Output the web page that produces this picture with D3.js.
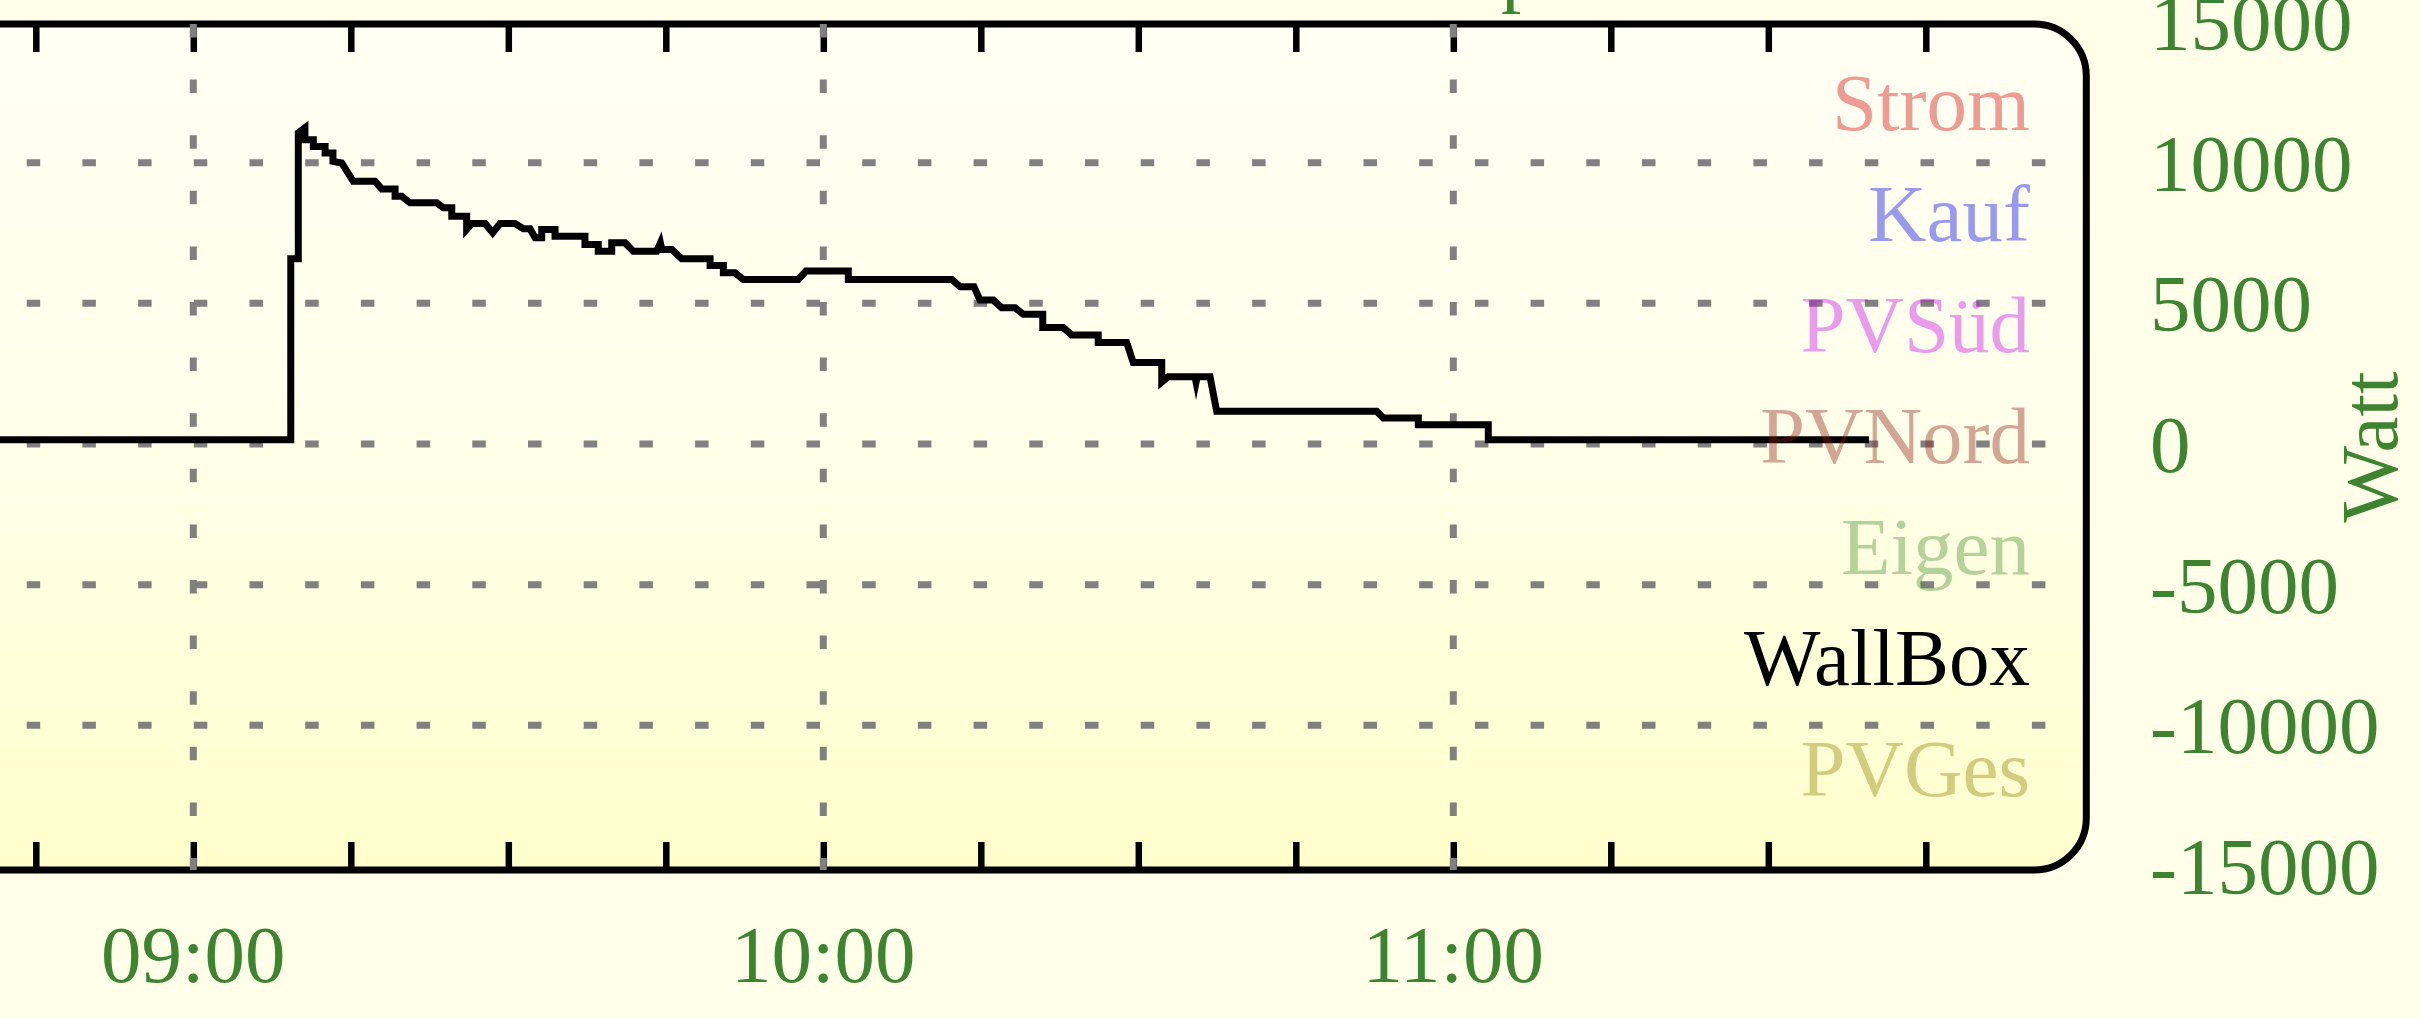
<!DOCTYPE html>
<html>
<head>
<meta charset="utf-8">
<script src="https://cdn.jsdelivr.net/npm/d3@7"></script>
<style>
html,body{margin:0;padding:0;background:#FEFEE9;overflow:hidden;}
svg{display:block;}
</style>
</head>
<body>
<svg id="chart" width="2420" height="1018"></svg>
<script>
// ---------- data ----------
const legendNames  = ["Strom", "Kauf", "PVSüd", "PVNord", "Eigen", "WallBox", "PVGes"];
const legendColors = ["#D4050A", "#0000EE", "#CD05EB", "#8E1E16", "#438E2F", "#000000", "#8E8200"];
const activeSeries = "WallBox";
const yTickValues  = [-15000, -10000, -5000, 0, 5000, 10000, 15000];
const yGridValues  = [-10000, -5000, 0, 5000, 10000];
const xLabelTimes  = ["09:00", "10:00", "11:00"];
const titleText    = "p";
const yAxisTitle   = "Watt";

const wallboxTimes = [
 "08:35:00","09:09:17","09:09:17","09:10:00","09:10:00","09:10:38","09:10:38","09:11:26","09:11:26","09:12:33",
 "09:12:33","09:13:18","09:13:18","09:14:08","09:15:14","09:17:18","09:17:57","09:19:13","09:19:13","09:19:51",
 "09:20:38","09:23:11","09:23:49","09:24:37","09:24:37","09:26:02","09:26:02","09:26:33","09:27:47","09:28:31",
 "09:29:13","09:30:38","09:31:26","09:32:04","09:32:33","09:33:11","09:33:11","09:34:27","09:34:27","09:37:18",
 "09:37:18","09:38:34","09:38:34","09:39:51","09:39:51","09:41:07","09:41:54","09:44:08","09:44:29","09:44:37",
 "09:45:34","09:46:31","09:49:13","09:49:13","09:50:29","09:50:29","09:51:35","09:52:23","09:57:37","09:58:21",
 "10:02:23","10:02:23","10:12:14","10:13:01","10:14:21","10:14:55","10:16:11","10:16:59","10:18:15","10:19:03",
 "10:20:54","10:20:54","10:22:51","10:23:39","10:26:11","10:26:11","10:28:54","10:29:31","10:32:14","10:32:14",
 "10:32:51","10:35:24","10:35:30","10:35:36","10:36:50","10:37:28","10:52:42","10:53:20","10:56:40","10:56:40",
 "11:03:20","11:03:20","11:39:35"
];
const wallboxValues = [
 150, 150, 6585, 6585, 11064, 11240, 10815, 10815, 10578, 10578,
 10344, 10344, 10046, 9989, 9337, 9337, 9067, 9067, 8805, 8805,
 8571, 8571, 8394, 8394, 8096, 8096, 7624, 7837, 7837, 7507,
 7837, 7837, 7649, 7649, 7330, 7330, 7624, 7624, 7387, 7387,
 7092, 7092, 6855, 6855, 7152, 7152, 6855, 6855, 7152, 6915,
 6915, 6585, 6585, 6347, 6347, 6088, 6088, 5851, 5851, 6145,
 6145, 5851, 5851, 5592, 5592, 5117, 5117, 4847, 4847, 4610,
 4610, 4138, 4138, 3876, 3876, 3606, 3606, 2897, 2897, 2199,
 2386, 2386, 2200, 2386, 2386, 1160, 1160, 922, 922, 684,
 684, 150, 150
];

// ---------- setup ----------
const parseT = d3.timeParse("%H:%M:%S");
const parseHM = d3.timeParse("%H:%M");
const svg = d3.select("#chart");

const x = d3.scaleTime()
  .domain([parseHM("08:35"), parseHM("12:00")])
  .range([-69.2, 2083.3]);
const y = d3.scaleLinear()
  .domain([-15000, 15000])
  .range([866, 22]);

const frameTop = 24, frameBottom = 870;
const frameLeft = x.range()[0], frameRight = x.range()[1] + 3;
const FONT = "'Liberation Serif','Times New Roman',Times,serif";
const FS = 81;
const GREEN = "#3E8430";

// defs: gradient
const defs = svg.append("defs");
const grad = defs.append("linearGradient").attr("id", "plotbg")
  .attr("x1", 0).attr("y1", 0).attr("x2", 0).attr("y2", 1);
grad.append("stop").attr("offset", "0%").attr("stop-color", "#FFFFF3");
grad.append("stop").attr("offset", "45%").attr("stop-color", "#FFFFEB");
grad.append("stop").attr("offset", "100%").attr("stop-color", "#FFFFCC");

// title (only its descender is inside the picture)
svg.append("text")
  .attr("x", 1501).attr("y", -3.5)
  .attr("font-family", FONT).attr("font-size", FS)
  .attr("fill", GREEN)
  .text(titleText);

// plot background
svg.append("rect")
  .attr("x", frameLeft).attr("y", frameTop)
  .attr("width", frameRight - frameLeft).attr("height", frameBottom - frameTop)
  .attr("rx", 52).attr("ry", 52)
  .attr("fill", "url(#plotbg)");

// ticks (every 15 minutes) top and bottom
const tickTimes = d3.timeMinute.every(15).range(x.domain()[0], x.domain()[1]).filter(t => x(t) > frameLeft + 5);
const topAxis = d3.axisTop(x).tickValues(tickTimes).tickSize(-28).tickFormat("");
const botAxis = d3.axisBottom(x).tickValues(tickTimes).tickSize(-28).tickFormat("");
const gTop = svg.append("g").attr("transform", `translate(0,${frameTop})`).call(topAxis);
const gBot = svg.append("g").attr("transform", `translate(0,${frameBottom})`).call(botAxis);
[gTop, gBot].forEach(g => {
  g.select(".domain").remove();
  g.selectAll(".tick text").remove();
  g.selectAll(".tick line").attr("stroke", "#000").attr("stroke-width", 6.5);
});

// frame
svg.append("rect")
  .attr("x", frameLeft).attr("y", frameTop)
  .attr("width", frameRight - frameLeft).attr("height", frameBottom - frameTop)
  .attr("rx", 52).attr("ry", 52)
  .attr("fill", "none").attr("stroke", "#000").attr("stroke-width", 7);

// grid lines
const gridLeft = frameLeft + 40.2, gridRight = frameRight - 40;
svg.append("g").selectAll("line.h").data(yGridValues).join("line")
  .attr("x1", gridLeft).attr("x2", gridRight)
  .attr("y1", d => y(d)).attr("y2", d => y(d))
  .attr("stroke", "#808080").attr("stroke-width", 7)
  .attr("stroke-dasharray", "13.5 42.2");
svg.append("g").selectAll("line.v").data(xLabelTimes.map(parseHM)).join("line")
  .attr("x1", d => x(d)).attr("x2", d => x(d))
  .attr("y1", frameTop).attr("y2", frameBottom)
  .attr("stroke", "#808080").attr("stroke-width", 7)
  .attr("stroke-dasharray", "13.5 42.1");

// data line
const pts = wallboxTimes.map((t, i) => [parseT(t), wallboxValues[i]]);
const line = d3.line().x(d => x(d[0])).y(d => y(d[1]));
svg.append("path")
  .datum(pts)
  .attr("d", line)
  .attr("fill", "none")
  .attr("stroke", "#000")
  .attr("stroke-width", 7)
  .attr("stroke-linejoin", "miter")
  .attr("stroke-miterlimit", 10);

// legend
svg.append("g").selectAll("text").data(legendNames).join("text")
  .attr("x", 2030)
  .attr("y", (d, i) => 130 + i * 111)
  .attr("text-anchor", "end")
  .attr("font-family", FONT).attr("font-size", FS)
  .attr("fill", (d, i) => legendColors[i])
  .attr("fill-opacity", d => d === activeSeries ? 1 : 0.4)
  .text(d => d);

// y axis labels (right)
const yAxis = d3.axisRight(y).tickValues(yTickValues).tickSize(0).tickPadding(0).tickFormat(d => String(d));
const gY = svg.append("g").attr("transform", "translate(2150,0)").call(yAxis);
gY.select(".domain").remove();
gY.selectAll("text")
  .attr("font-family", FONT).attr("font-size", FS)
  .attr("fill", GREEN).attr("dy", "0.34em").attr("x", 0);

// x axis labels
svg.append("g").selectAll("text").data(xLabelTimes).join("text")
  .attr("x", d => x(parseHM(d)))
  .attr("y", 982)
  .attr("text-anchor", "middle")
  .attr("font-family", FONT).attr("font-size", FS)
  .attr("fill", GREEN)
  .text(d => d);

// y axis title
svg.append("text")
  .attr("transform", "translate(2397,447) rotate(-90)")
  .attr("text-anchor", "middle")
  .attr("font-family", FONT).attr("font-size", FS)
  .attr("fill", GREEN)
  .text(yAxisTitle);
</script>
</body>
</html>
